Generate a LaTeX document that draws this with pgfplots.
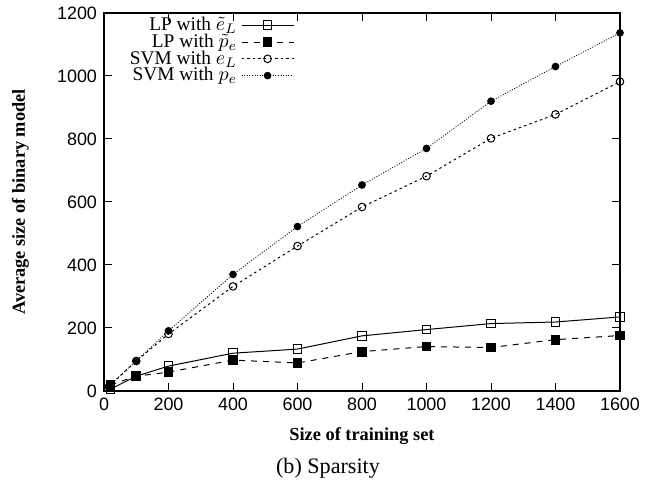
\documentclass[border=0pt]{standalone}
\usepackage{fontspec}
\setmainfont{Liberation Serif}
\newfontfamily\tsans{Liberation Sans}
\usepackage{pgfplots}
\pgfplotsset{compat=1.18}
\begin{document}
\begin{tikzpicture}[x=1bp,y=1bp]
\begin{axis}[
  at={(0,0)}, anchor=south west,
  scale only axis, width=258bp, height=189bp,
  xmin=0, xmax=1600, ymin=0, ymax=1200,
  xtick={0,200,...,1600}, ytick={0,200,...,1200},
  tick align=inside, major tick length=4bp,
  tick label style={font=\tsans\fontsize{9}{10}\selectfont},
  /pgf/number format/assume math mode=true,
  /pgf/number format/1000 sep={},
  xlabel={\textbf{Size of training set}},
  ylabel={\textbf{Average size of binary model}},
  label style={font=\fontsize{9.2}{10}\selectfont},
  xlabel style={at={(axis description cs:0.5,0)}, anchor=center, yshift=-22.5bp},
  ylabel style={at={(axis description cs:-0.162,0.5)}, anchor=center, rotate=0},
  axis line style={line width=0.6pt},
  every tick/.style={line width=0.5pt},
  legend style={draw=none, fill=none, at={(axis description cs:0.373,1.006)}, anchor=north east,
    font=\fontsize{9.7}{10}\selectfont, row sep=-3.8bp, inner sep=1pt},
  legend cell align=right,
  legend plot pos=right,
  legend image code/.code={\draw[mark repeat=2,mark phase=2,#1] plot coordinates {(0bp,0bp) (13bp,0bp) (26bp,0bp)};},
]
\addplot[black, line width=0.5pt, mark=square, mark size=2.2bp, mark options={solid, line width=0.5pt}]
 coordinates {(20,6) (100,47) (200,79) (400,120) (600,133) (800,175) (1000,195) (1200,214) (1400,219) (1600,235)};
\addlegendentry{LP with $\tilde{e}_L$}
\addplot[black, line width=0.5pt, dashed, mark=square*, mark size=2.2bp, mark options={solid}]
 coordinates {(20,19) (100,47) (200,60) (400,98) (600,89) (800,125) (1000,141) (1200,138) (1400,163) (1600,176)};
\addlegendentry{LP with $\tilde{p}_e$}
\addplot[black, line width=0.5pt, dash pattern=on 1.2bp off 1.6bp, mark=o, mark size=1.9bp, mark options={solid, line width=0.5pt}]
 coordinates {(15,14) (100,95) (200,181) (400,332) (600,460) (800,584) (1000,682) (1200,802) (1400,878) (1600,982)};
\addlegendentry{SVM with $e_L$}
\addplot[black, line width=0.4pt, dash pattern=on 0.5bp off 0.8bp, mark=*, mark size=1.7bp, mark options={solid}]
 coordinates {(15,16) (100,96) (200,191) (400,370) (600,522) (800,654) (1000,770) (1200,920) (1400,1030) (1600,1137)};
\addlegendentry{SVM with $p_e$}
\end{axis}
\node[font=\fontsize{11.1}{12}\selectfont, anchor=base] at (112bp,-41.5bp) {(b) Sparsity};
\path[use as bounding box] (-52bp,-46.5bp) rectangle (276bp,193.5bp);
\end{tikzpicture}
\end{document}
